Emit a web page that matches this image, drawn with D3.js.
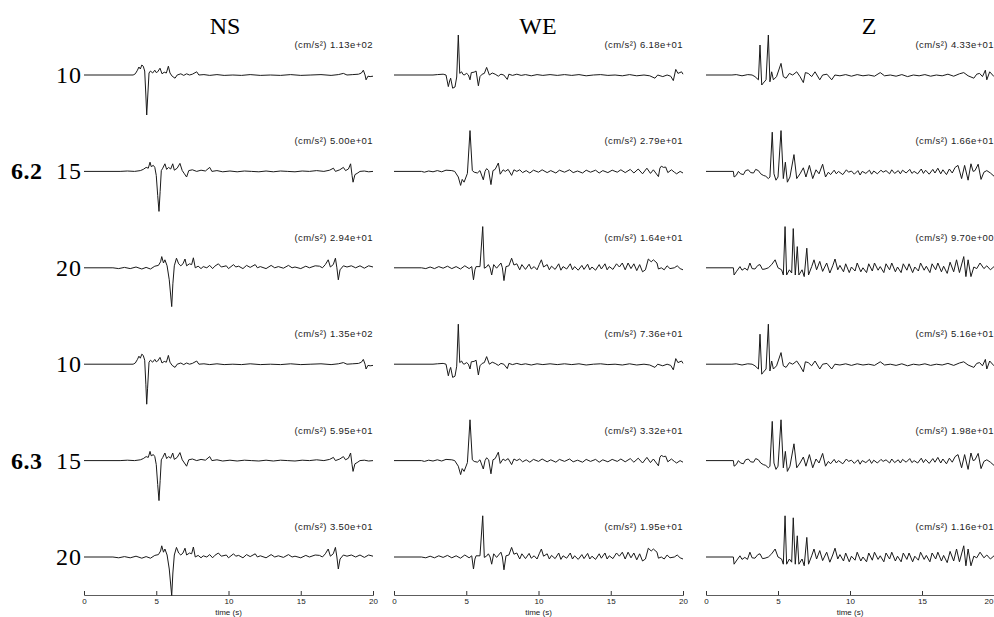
<!DOCTYPE html>
<html>
<head>
<meta charset="utf-8">
<script src="https://d3js.org/d3.v7.min.js"></script>
<style>
body { margin:0; background:#fff; }
svg { display:block; }
</style>
</head>
<body>
<div id="chart"></div>
<script>
// components (columns), depths (rows), magnitudes (row groups)
var components = ["NS", "WE", "Z"];
var depths = [10, 15, 20];
var magnitudes = ["6.2", "6.3"];
var timeTicks = [0, 5, 10, 15, 20];

// peak amplitude printed above each trace, rows = depth, cols = NS, WE, Z
var peaks_62 = [
  ["1.13e+02", "6.18e+01", "4.33e+01"],
  ["5.00e+01", "2.79e+01", "1.66e+01"],
  ["2.94e+01", "1.64e+01", "9.70e+00"]
];
var peaks_63 = [
  ["1.35e+02", "7.36e+01", "5.16e+01"],
  ["5.95e+01", "3.32e+01", "1.98e+01"],
  ["3.50e+01", "1.95e+01", "1.16e+01"]
];

// normalized accelerograms [time (s), amplitude / peak]
// (the 6.2 and 6.3 traces have the same normalized shape)
var ns10 = [[0,0],[3.4,0],[3.55,0.03],[3.7,0.12],[3.8,0.2],[3.9,0.15],[4.0,0.25],[4.1,0.22],[4.2,0.1],[4.28,-0.5],[4.34,-1.0],[4.4,-0.6],[4.5,0.05],[4.6,0.1],[4.75,0.05],[4.9,0.12],[5.0,0.06],[5.1,0.08],[5.26,0.17],[5.4,0.03],[5.55,0.07],[5.7,0.05],[5.84,0.22],[5.95,0.05],[6.1,-0.03],[6.3,-0.08],[6.45,0.0],[6.7,0.03],[6.9,-0.01],[7.1,0.03],[7.3,0.0],[7.5,0.02],[7.8,0.08],[7.95,0.0],[8.3,0.01],[8.7,-0.01],[9.2,0.01],[9.7,-0.01],[10.3,0.0],[10.9,-0.01],[11.5,0.01],[12.2,-0.01],[12.9,0.0],[13.6,-0.01],[14.3,0.01],[15.0,-0.01],[15.7,0.0],[16.4,0.01],[17.1,-0.01],[17.6,0.01],[17.95,0.04],[18.2,0.0],[18.6,0.01],[19.0,0.02],[19.2,0.05],[19.33,0.12],[19.45,0.0],[19.52,-0.12],[19.65,-0.03],[19.8,-0.04],[20,-0.03]];
var ns15 = [[0,0],[2.5,0],[3.0,0.01],[3.5,0],[3.9,0.02],[4.1,0.05],[4.3,0.1],[4.45,0.08],[4.57,0.23],[4.65,0.12],[4.8,0.15],[4.9,0.1],[5.0,-0.1],[5.1,-0.6],[5.19,-1.0],[5.27,-0.5],[5.35,0.02],[5.45,0.08],[5.6,0.19],[5.72,0.05],[5.85,0.1],[6.0,0.06],[6.14,0.19],[6.25,0.03],[6.45,0.08],[6.64,0.2],[6.8,0.02],[6.95,-0.06],[7.1,-0.14],[7.25,0.02],[7.5,0.04],[7.8,0.0],[8.1,0.03],[8.4,0.01],[8.7,0.1],[8.85,0.0],[9.2,0.02],[9.6,-0.01],[10.1,0.01],[10.6,-0.01],[11.1,0.01],[11.6,0.0],[12.1,-0.01],[12.6,0.01],[13.1,-0.01],[13.6,0.01],[14.1,0.0],[14.6,-0.01],[15.1,0.01],[15.6,0.0],[16.1,0.02],[16.6,0.0],[17.0,0.03],[17.26,0.08],[17.4,0.0],[17.7,0.04],[17.95,0.1],[18.1,0.02],[18.3,0.06],[18.45,0.19],[18.55,-0.1],[18.62,-0.27],[18.75,-0.08],[18.9,-0.05],[19.1,0.0],[19.4,0.01],[19.7,-0.01],[20,0.0]];
var ns20 = [[0,0],[2.0,0],[2.4,-0.02],[2.8,0.01],[3.2,-0.02],[3.6,0.02],[4.0,-0.03],[4.3,0.01],[4.6,-0.03],[4.9,0.04],[5.15,0.06],[5.3,0.15],[5.38,0.28],[5.5,0.12],[5.6,0.2],[5.75,0.05],[5.9,-0.3],[6.07,-0.97],[6.15,-0.4],[6.25,0.05],[6.4,0.24],[6.55,0.1],[6.7,0.05],[6.85,0.1],[6.99,0.22],[7.1,0.05],[7.3,0.1],[7.45,0.08],[7.57,0.25],[7.7,0.0],[7.9,0.04],[8.1,-0.02],[8.25,0.03],[8.5,0.0],[8.7,0.06],[8.9,-0.02],[9.05,0.04],[9.3,0.1],[9.5,0.02],[9.85,0.05],[10.0,-0.02],[10.35,0.08],[10.5,0.02],[10.7,0.04],[11.0,-0.02],[11.25,0.06],[11.5,0.01],[11.85,0.08],[12.0,0.0],[12.2,0.03],[12.6,-0.02],[12.95,0.06],[13.2,0.0],[13.45,0.03],[13.8,-0.01],[14.15,0.06],[14.4,0.0],[14.6,0.02],[15.0,-0.02],[15.35,0.04],[15.6,0.0],[16.0,0.05],[16.3,0.04],[16.5,0.0],[16.7,0.08],[16.9,0.2],[17.05,0.02],[17.25,0.08],[17.4,0.24],[17.5,0.0],[17.6,-0.3],[17.72,-0.05],[17.95,0.05],[18.2,0.02],[18.5,0.05],[18.8,0.0],[19.1,0.05],[19.4,-0.01],[19.7,0.05],[20,0.02]];
var we10 = [[0,0],[2.7,0],[3.0,0.01],[3.4,0.02],[3.6,0.0],[3.76,-0.29],[3.85,-0.15],[3.92,-0.08],[4.06,-0.33],[4.22,-0.3],[4.34,-0.05],[4.45,1.0],[4.55,0.04],[4.68,0.08],[4.76,0.02],[4.85,0.0],[5.03,0.04],[5.15,0.0],[5.26,-0.12],[5.35,0.06],[5.54,0.07],[5.68,0.1],[5.84,-0.27],[5.95,-0.04],[6.1,0.02],[6.25,0.04],[6.41,0.19],[6.6,0.0],[6.8,0.05],[7.0,0.02],[7.22,-0.03],[7.4,0.02],[7.6,0.0],[7.84,-0.11],[7.95,0.02],[8.2,-0.01],[8.5,0.02],[8.8,-0.01],[9.1,0.01],[9.5,-0.02],[9.9,0.01],[10.3,-0.01],[10.8,0.01],[11.3,-0.01],[11.8,0.01],[12.3,-0.01],[12.8,0.01],[13.3,-0.02],[13.8,0.0],[14.3,0.01],[14.8,-0.01],[15.3,0.0],[15.8,-0.02],[16.3,0.01],[16.8,-0.02],[17.3,0.0],[17.7,-0.02],[18.06,-0.08],[18.25,0.0],[18.6,-0.04],[18.9,0.0],[19.15,-0.03],[19.33,-0.14],[19.5,0.14],[19.65,0.04],[19.9,0.08],[20,0.02]];
var we15 = [[0,0],[1.9,0],[2.1,-0.02],[2.4,0.01],[2.7,-0.01],[3.0,0.02],[3.3,-0.01],[3.6,0.03],[4.0,0.02],[4.2,0.0],[4.45,-0.14],[4.61,-0.35],[4.72,-0.2],[4.85,-0.27],[5.08,-0.05],[5.26,1.02],[5.42,0.02],[5.55,-0.02],[5.77,-0.04],[5.95,0.02],[6.18,-0.21],[6.3,0.0],[6.41,0.07],[6.55,0.02],[6.71,-0.33],[6.85,0.02],[7.0,0.05],[7.22,0.21],[7.35,-0.07],[7.55,0.04],[7.7,0.0],[7.9,0.05],[8.14,-0.1],[8.3,0.04],[8.5,0.0],[8.7,0.04],[8.9,-0.03],[9.15,0.02],[9.4,-0.04],[9.65,0.03],[10.0,-0.02],[10.25,0.04],[10.6,-0.03],[10.85,0.02],[11.2,-0.04],[11.45,0.03],[11.8,-0.02],[12.15,0.04],[12.4,-0.03],[12.7,0.01],[13.05,-0.04],[13.3,0.03],[13.6,-0.02],[13.95,0.03],[14.2,-0.04],[14.45,0.02],[14.8,-0.03],[15.1,0.03],[15.45,-0.02],[15.7,0.04],[16.0,-0.03],[16.35,0.05],[16.6,-0.04],[16.9,0.06],[17.2,-0.06],[17.5,0.08],[17.75,-0.05],[17.95,0.04],[18.3,-0.13],[18.4,0.08],[18.5,0.13],[18.65,0.1],[18.8,0.11],[18.95,-0.03],[19.2,0.04],[19.4,-0.02],[19.56,-0.06],[19.8,0.0],[20,-0.04]];
var we20 = [[0,0],[1.9,0],[2.2,-0.02],[2.5,0.02],[2.8,-0.02],[3.1,0.03],[3.4,-0.01],[3.7,0.04],[4.0,-0.02],[4.3,0.03],[4.6,-0.03],[4.9,0.05],[5.2,-0.02],[5.38,0.03],[5.5,-0.3],[5.6,-0.05],[5.68,0.03],[5.95,0.03],[6.14,1.03],[6.25,-0.01],[6.4,0.02],[6.53,0.08],[6.65,0.0],[6.76,-0.18],[6.9,0.08],[7.1,-0.01],[7.4,0.12],[7.5,0.0],[7.61,-0.32],[7.75,0.03],[7.95,0.05],[8.14,0.24],[8.3,0.07],[8.5,0.1],[8.7,-0.05],[8.85,0.08],[9.1,-0.04],[9.35,0.09],[9.5,-0.03],[9.7,0.03],[9.9,-0.05],[10.05,0.08],[10.2,0.2],[10.35,0.02],[10.6,0.08],[10.75,-0.05],[10.9,0.04],[11.15,-0.04],[11.4,0.1],[11.55,-0.06],[11.7,0.03],[11.95,-0.03],[12.2,0.1],[12.35,-0.05],[12.5,0.03],[12.75,-0.06],[13.0,0.06],[13.15,-0.04],[13.4,0.09],[13.55,-0.05],[13.7,0.02],[13.95,-0.06],[14.2,0.08],[14.35,-0.03],[14.6,0.1],[14.75,-0.05],[14.9,0.03],[15.15,-0.04],[15.4,0.1],[15.6,0.02],[15.8,0.12],[16.0,-0.05],[16.2,0.12],[16.4,-0.02],[16.6,0.1],[16.8,-0.07],[17.0,0.08],[17.2,-0.1],[17.4,-0.05],[17.6,0.22],[17.8,0.15],[17.95,0.2],[18.2,0.12],[18.3,-0.03],[18.5,0.0],[18.7,-0.05],[18.9,0.05],[19.1,-0.02],[19.4,0.0],[19.6,0.05],[19.8,-0.02],[20,-0.05]];
var z10 = [[0,0],[1.8,0],[2.1,0.01],[2.5,-0.02],[2.9,0.01],[3.2,0.0],[3.4,-0.04],[3.64,-0.12],[3.75,0.75],[3.87,-0.25],[3.98,-0.2],[4.17,-0.12],[4.33,1.0],[4.44,-0.17],[4.56,0.08],[4.68,-0.12],[4.9,-0.04],[5.21,0.29],[5.37,-0.04],[5.56,-0.08],[5.79,0.04],[6.02,0.0],[6.3,0.08],[6.53,-0.04],[6.76,-0.19],[6.9,0.06],[7.1,0.04],[7.34,-0.04],[7.57,0.08],[7.9,-0.12],[8.1,0.0],[8.4,0.02],[8.73,-0.12],[8.95,0.0],[9.3,-0.02],[9.7,0.01],[10.1,-0.03],[10.5,0.01],[10.9,-0.02],[11.3,0.0],[11.7,-0.03],[12.1,0.06],[12.4,-0.02],[12.8,0.0],[13.2,-0.03],[13.6,0.01],[14.0,-0.04],[14.4,0.0],[14.8,-0.02],[15.2,0.01],[15.6,-0.03],[16.0,0.0],[16.4,-0.02],[16.8,0.02],[17.2,-0.03],[17.6,0.03],[17.9,0.06],[18.2,-0.02],[18.6,-0.08],[18.8,0.02],[19.0,0.04],[19.2,-0.04],[19.4,0.12],[19.5,-0.12],[19.7,0.08],[20,-0.04]];
var z15 = [[0,0],[1.9,0],[1.95,-0.14],[2.1,-0.1],[2.25,0.0],[2.4,-0.06],[2.6,-0.08],[2.75,0.02],[2.94,0.04],[3.1,-0.03],[3.3,-0.04],[3.45,0.05],[3.64,0.02],[3.8,-0.06],[3.98,-0.1],[4.15,-0.12],[4.33,-0.18],[4.44,-0.14],[4.6,0.98],[4.72,-0.06],[4.86,-0.22],[5.0,-0.14],[5.21,1.02],[5.37,-0.18],[5.51,0.23],[5.65,-0.27],[5.83,-0.14],[6.11,0.42],[6.3,-0.18],[6.53,-0.06],[6.76,0.09],[6.94,-0.14],[7.18,0.15],[7.41,-0.18],[7.64,0.04],[7.85,-0.06],[8.1,0.18],[8.3,-0.14],[8.5,-0.02],[8.65,-0.08],[8.9,0.03],[9.05,-0.06],[9.2,0.0],[9.5,-0.08],[9.75,0.04],[9.9,-0.02],[10.1,0.01],[10.3,-0.07],[10.55,0.02],[10.7,-0.09],[10.85,0.0],[11.1,-0.05],[11.35,0.03],[11.5,-0.07],[11.65,0.01],[11.9,-0.06],[12.15,0.03],[12.3,-0.02],[12.5,0.02],[12.75,-0.06],[12.9,0.04],[13.1,-0.05],[13.35,0.02],[13.5,-0.06],[13.65,0.03],[13.9,-0.04],[14.15,0.05],[14.3,-0.05],[14.45,0.0],[14.7,-0.06],[14.95,0.06],[15.1,-0.05],[15.25,0.03],[15.5,-0.07],[15.75,0.05],[15.9,-0.04],[16.1,0.08],[16.3,-0.06],[16.45,0.04],[16.7,-0.08],[16.9,0.06],[17.1,-0.04],[17.3,0.1],[17.5,0.15],[17.75,-0.18],[17.96,0.15],[18.2,-0.22],[18.4,0.19],[18.55,0.0],[18.68,0.02],[18.9,0.18],[19.1,-0.2],[19.3,-0.02],[19.5,0.02],[19.75,-0.04],[20,-0.12]];
var z20 = [[0,0],[1.9,0],[1.95,-0.18],[2.1,-0.1],[2.36,0.03],[2.5,-0.06],[2.7,-0.01],[2.88,-0.06],[3.05,0.12],[3.2,-0.02],[3.4,-0.03],[3.6,0.06],[3.75,0.08],[3.92,-0.04],[4.1,-0.03],[4.33,0.0],[4.56,0.08],[4.8,0.2],[5.0,0.0],[5.25,-0.05],[5.37,-0.18],[5.49,1.03],[5.6,-0.18],[5.79,-0.05],[5.95,-0.13],[6.06,0.98],[6.2,-0.18],[6.34,0.53],[6.45,-0.18],[6.67,-0.05],[6.82,-0.22],[7.0,0.49],[7.12,-0.18],[7.34,0.03],[7.5,0.2],[7.68,-0.05],[7.9,0.16],[8.1,-0.09],[8.38,0.12],[8.6,-0.13],[8.8,0.05],[8.96,0.22],[9.15,-0.05],[9.3,0.06],[9.55,-0.1],[9.7,0.1],[9.95,-0.12],[10.1,0.02],[10.35,-0.08],[10.5,0.12],[10.75,-0.1],[10.9,0.0],[11.15,-0.12],[11.3,0.1],[11.55,-0.08],[11.7,0.12],[11.95,-0.06],[12.1,0.03],[12.35,-0.12],[12.5,0.1],[12.75,-0.05],[12.9,0.12],[13.15,-0.1],[13.3,0.02],[13.55,-0.12],[13.7,0.1],[13.95,-0.06],[14.1,0.1],[14.35,-0.12],[14.5,0.02],[14.75,-0.08],[14.9,0.12],[15.15,-0.06],[15.3,0.04],[15.55,-0.12],[15.7,0.1],[15.95,-0.05],[16.1,0.12],[16.35,-0.1],[16.5,0.04],[16.75,-0.14],[16.95,0.14],[17.2,-0.1],[17.4,0.2],[17.6,-0.12],[17.9,0.28],[18.05,-0.22],[18.2,0.2],[18.4,-0.22],[18.6,0.02],[18.8,-0.02],[19.03,0.12],[19.3,-0.02],[19.5,0.05],[19.75,-0.05],[20,0.03]];

// traces[depth index][component index]
var traces = [
  [ns10, we10, z10],
  [ns15, we15, z15],
  [ns20, we20, z20]
];

var width = 994, height = 617;
var svg = d3.select("#chart").append("svg")
  .attr("width", width)
  .attr("height", height);

// one time scale per column
var xRanges = [[84, 373], [394, 683], [706, 994]];
var xScales = xRanges.map(function(r) {
  return d3.scaleLinear().domain([0, 20]).range(r);
});
var headerX = [225, 538, 869];

// baselines of the six rows
var rowY = d3.scaleLinear().domain([0, 5]).range([75, 557]);
var halfHeight = 40;

var serif = "'Liberation Serif', 'DejaVu Serif', serif";
var sans = "'Liberation Sans', Arial, sans-serif";

// column headers
svg.selectAll("text.header")
  .data(components)
  .enter().append("text")
  .attr("class", "header")
  .attr("x", function(d, i) { return headerX[i]; })
  .attr("y", 34)
  .attr("text-anchor", "middle")
  .style("font", "24px " + serif)
  .text(function(d) { return d; });

var rows = [];
magnitudes.forEach(function(m, mi) {
  var peaks = mi == 0 ? peaks_62 : peaks_63;
  depths.forEach(function(dep, di) {
    rows.push({mag: m, depth: dep, di: di, peaks: peaks[di], row: mi * 3 + di});
  });
});

rows.forEach(function(r) {
  var base = rowY(r.row);
  var y = d3.scaleLinear().domain([-1, 1]).range([base + halfHeight, base - halfHeight]);

  // depth label
  svg.append("text")
    .attr("x", 82)
    .attr("y", base + 8)
    .attr("text-anchor", "end")
    .style("font", "24px " + serif)
    .style("letter-spacing", "1px")
    .text(r.depth);

  // magnitude label on the middle row of each group
  if (r.di == 1) {
    svg.append("text")
      .attr("x", 11)
      .attr("y", base + 8)
      .style("font", "bold 24px " + serif)
      .style("letter-spacing", "0.5px")
      .text(r.mag);
  }

  components.forEach(function(c, ci) {
    var x = xScales[ci];
    var line = d3.line()
      .x(function(d) { return x(d[0]); })
      .y(function(d) { return y(d[1]); });

    svg.append("path")
      .datum(traces[r.di][ci])
      .attr("d", line)
      .attr("fill", "none")
      .attr("stroke", "#1a1a1a")
      .attr("stroke-width", 1)
      .attr("stroke-linejoin", "round");

    svg.append("text")
      .attr("x", x.range()[1])
      .attr("y", base - 27)
      .attr("text-anchor", "end")
      .style("font", "9.5px " + sans)
      .style("letter-spacing", "0.4px")
      .style("fill", "#222")
      .text("(cm/s\u00b2) " + r.peaks[ci]);
  });
});

// time axes under each column
var axisY = 595;
xScales.forEach(function(x, ci) {
  var g = svg.append("g").attr("transform", "translate(0," + axisY + ")");
  g.call(d3.axisBottom(x).tickValues(d3.range(0, 21, 1)).tickSize(-2).tickFormat(""));
  g.call(d3.axisBottom(x).tickValues(timeTicks).tickSize(-4).tickPadding(3)
      .tickFormat(d3.format("d")));
  g.selectAll(".domain").attr("stroke", "#333").attr("stroke-width", 0.8);
  g.selectAll(".tick line").attr("stroke", "#333");
  g.selectAll("text").style("font", "8px " + sans).attr("fill", "#222");
  // last label of the right-hand axis sits on the page edge
  if (ci == 2) {
    g.selectAll(".tick text").filter(function(d) { return d == 20; })
      .attr("text-anchor", "end").attr("dx", "-1");
  }

  svg.append("text")
    .attr("x", (x.range()[0] + x.range()[1]) / 2)
    .attr("y", 615)
    .attr("text-anchor", "middle")
    .style("font", "8px " + sans)
    .style("fill", "#222")
    .text("time (s)");
});
</script>
</body>
</html>
